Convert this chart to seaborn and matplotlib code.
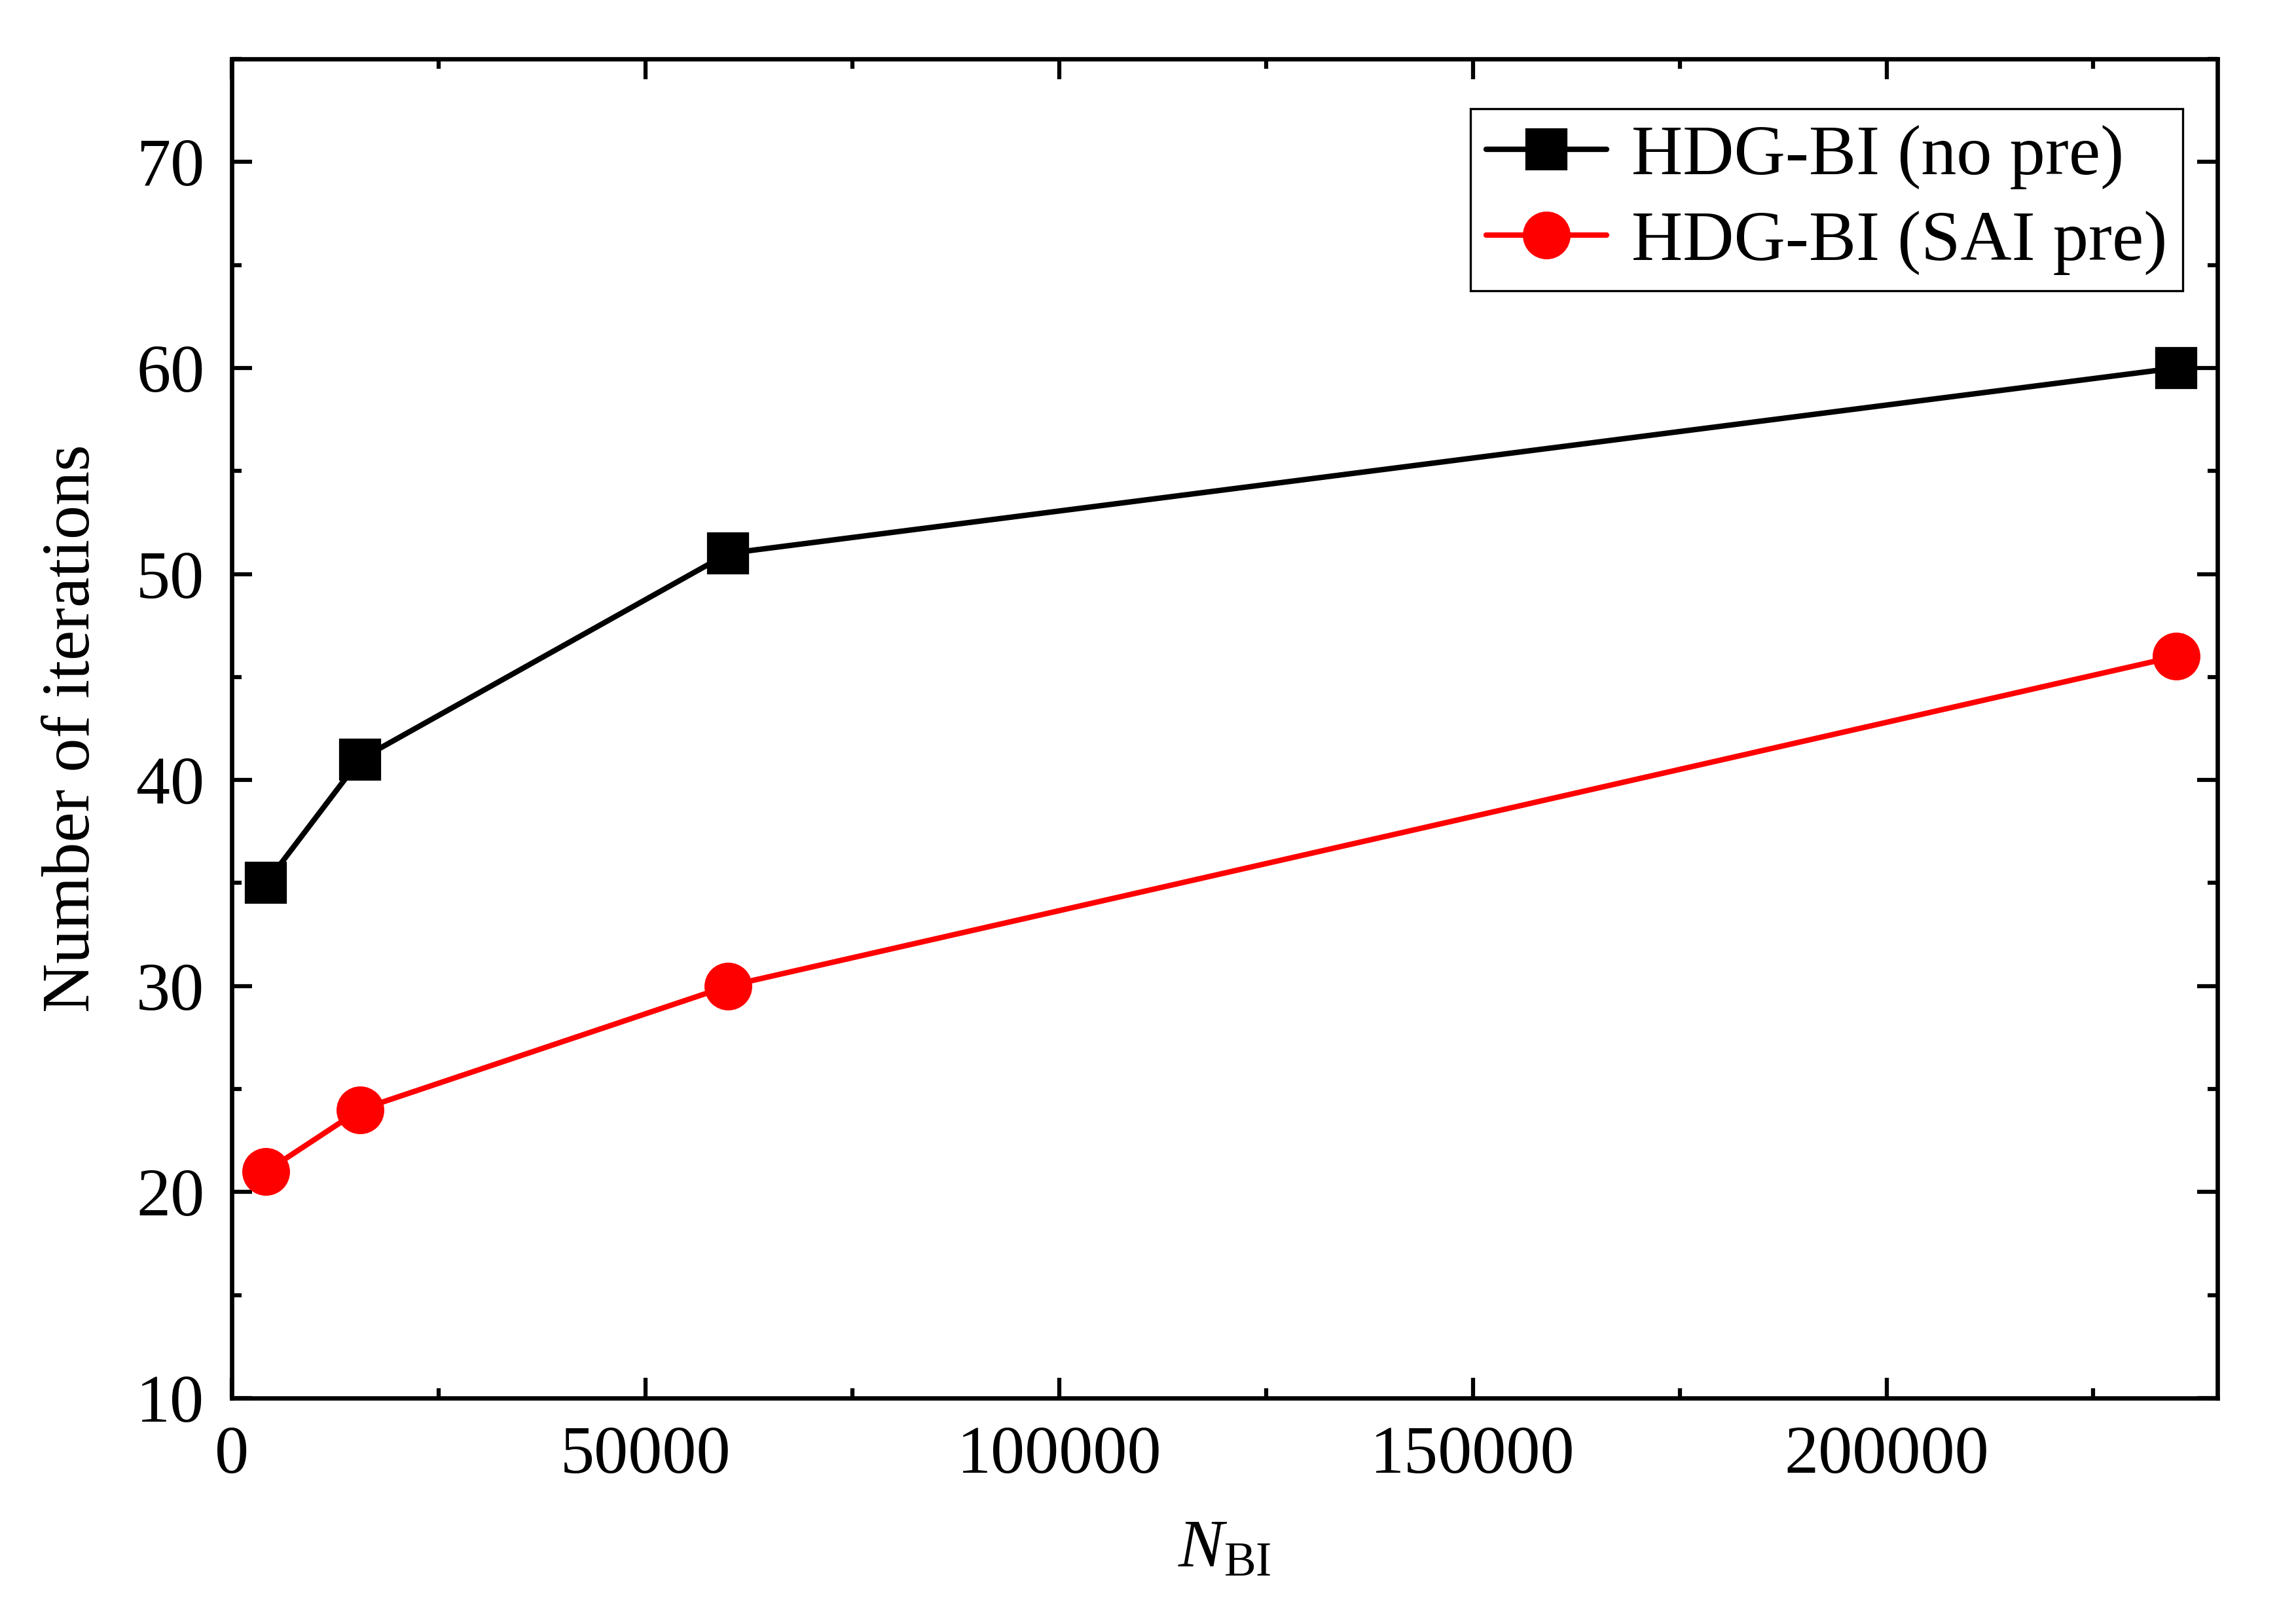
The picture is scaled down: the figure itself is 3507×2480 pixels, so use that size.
import matplotlib
matplotlib.use("Agg")
import matplotlib.pyplot as plt
from matplotlib.ticker import MultipleLocator, FixedLocator, FixedFormatter
import seaborn as sns

# ---- data ----
n_bi = [4150, 15500, 60000, 235000]
iters_no_pre = [35, 41, 51, 60]
iters_sai_pre = [21, 24, 30, 46]
label_no_pre = "HDG-BI (no pre)"
label_sai_pre = "HDG-BI (SAI pre)"
x_ticks = [0, 50000, 100000, 150000, 200000]
x_tick_labels = ["0", "50000", "100000", "150000", "200000"]
y_ticks = [10, 20, 30, 40, 50, 60, 70]

sns.set_theme(style="ticks")
plt.rcParams['font.family'] = ['Liberation Serif', 'DejaVu Serif']
plt.rcParams['mathtext.fontset'] = 'custom'
plt.rcParams['mathtext.rm'] = 'Liberation Serif'
plt.rcParams['mathtext.it'] = 'Liberation Serif:italic'
plt.rcParams['mathtext.bf'] = 'Liberation Serif:bold'
for k in ['text.color', 'axes.labelcolor', 'xtick.color', 'ytick.color', 'axes.edgecolor']:
    plt.rcParams[k] = 'black'

fig = plt.figure(figsize=(3507/300, 2480/300), dpi=300)
fig.subplots_adjust(left=354/3507, right=3387/3507, bottom=1-2135/2480, top=1-90/2480)
ax = fig.add_subplot(111)

sns.lineplot(x=n_bi, y=iters_no_pre, ax=ax, color="black", marker="s",
             markersize=14, markeredgewidth=1.5, markeredgecolor="black",
             linewidth=2.0, label=label_no_pre)
sns.lineplot(x=n_bi, y=iters_sai_pre, ax=ax, color="red", marker="o",
             markersize=16, markeredgewidth=1.5, markeredgecolor="red",
             linewidth=2.0, label=label_sai_pre)

ax.set_xlim(0, 240000)
ax.set_ylim(10, 75)
ax.xaxis.set_major_locator(FixedLocator(x_ticks))
ax.xaxis.set_major_formatter(FixedFormatter(x_tick_labels))
ax.xaxis.set_minor_locator(MultipleLocator(25000))
ax.yaxis.set_major_locator(FixedLocator(y_ticks))
ax.yaxis.set_minor_locator(MultipleLocator(5))

for s in ax.spines.values():
    s.set_linewidth(1.6)
    s.set_color("black")
    s.set_visible(True)

ax.tick_params(which="both", direction="in", top=True, right=True,
               bottom=True, left=True, width=1.5, colors="black")
ax.tick_params(which="major", length=7.5, labelsize=25, pad=10)
ax.tick_params(which="minor", length=3.5)

ax.set_xlabel(r"$N_{\mathrm{BI}}$", fontsize=25, labelpad=12, color="black")
ax.set_ylabel("Number of iterations", fontsize=25, labelpad=12, color="black")

leg = ax.legend(loc="upper right", bbox_to_anchor=(1 - 53/3033, 1 - 76/2045),
                fontsize=26, frameon=True, fancybox=False,
                edgecolor="black", framealpha=1, borderpad=0.22,
                handlelength=1.7, handletextpad=0.35, labelspacing=0.3,
                borderaxespad=0)
leg.get_frame().set_linewidth(0.8)
for t in leg.get_texts():
    t.set_color("black")

fig.savefig("out.png", dpi=300, facecolor="white")
